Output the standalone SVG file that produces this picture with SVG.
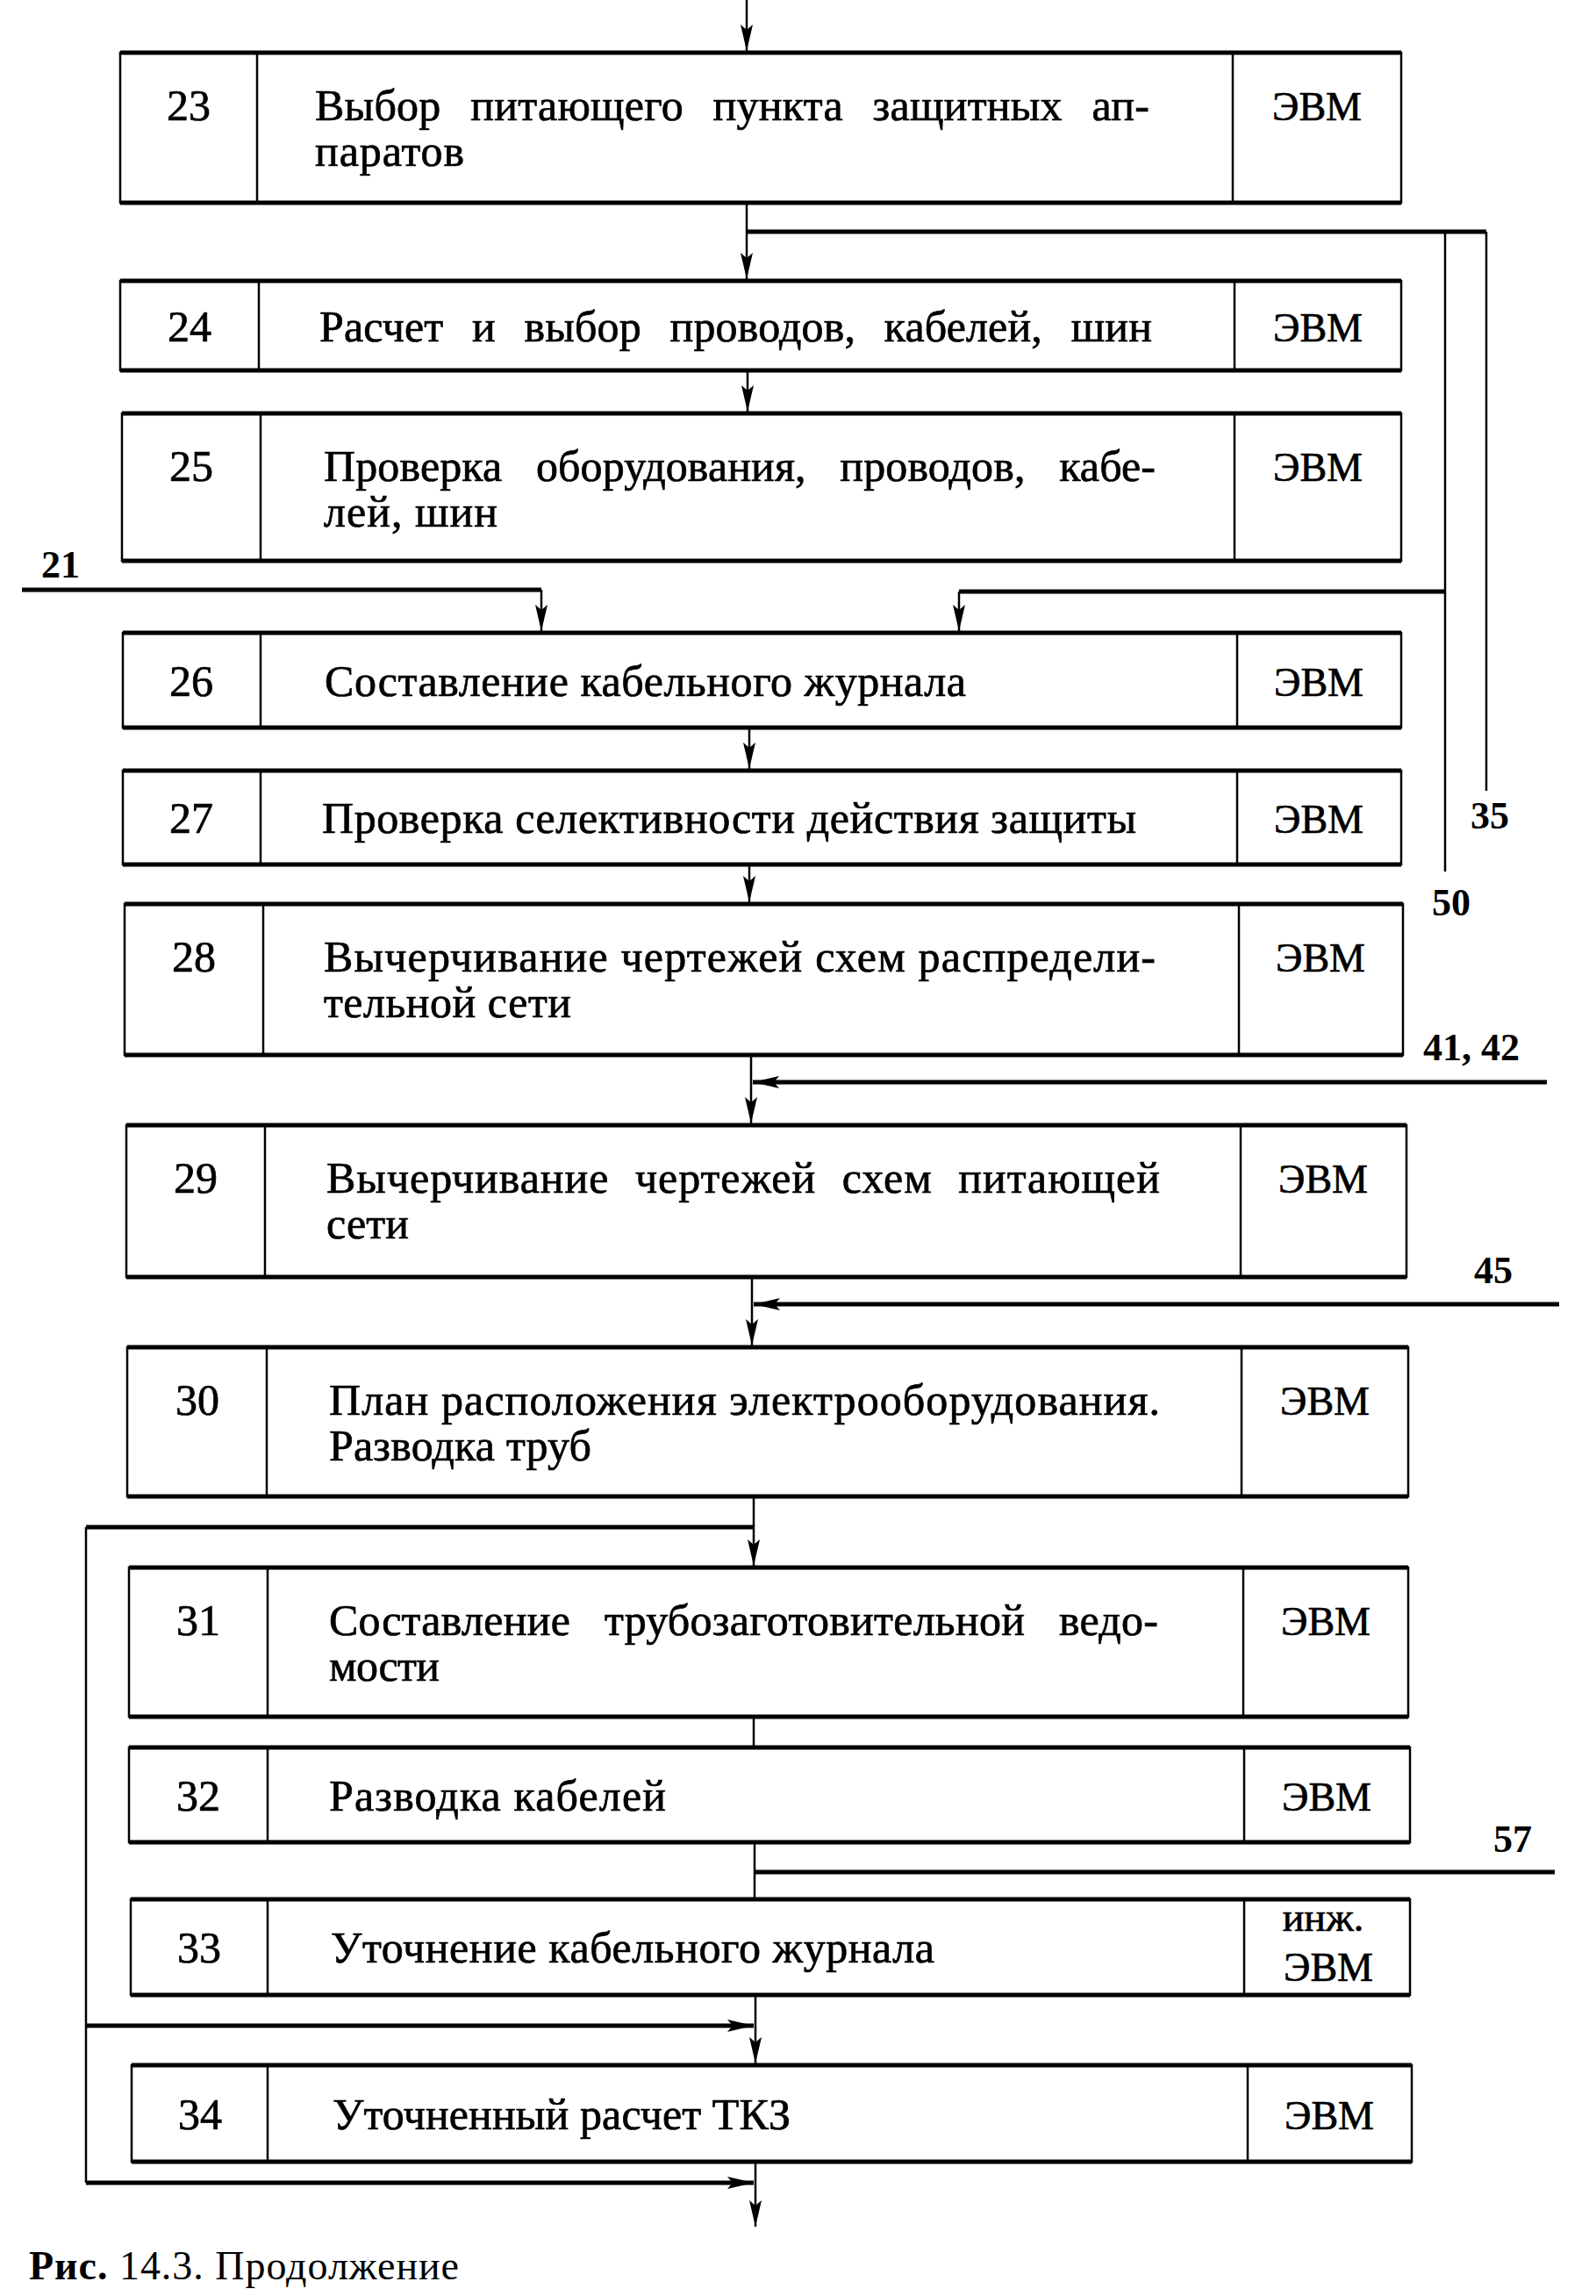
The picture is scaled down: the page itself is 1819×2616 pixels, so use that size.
<svg xmlns="http://www.w3.org/2000/svg" width="1819" height="2616" viewBox="0 0 1819 2616">
<style>
.fr{fill:none;stroke:#000;stroke-width:2.5}
.tb{stroke:#000;stroke-width:5}
.dv{stroke:#000;stroke-width:2.5}
.t{font-family:"Liberation Serif",serif;font-size:50px;fill:#000;stroke:#000;stroke-width:0.7}
.n{text-anchor:middle}
.e{font-size:46px;text-anchor:middle}
.lb{font-family:"Liberation Serif",serif;font-size:44px;font-weight:bold;fill:#000}
.cn{stroke:#000;stroke-width:2.5;fill:none}
.ck{stroke:#000;stroke-width:5;fill:none}
</style>
<defs>
<marker id="ar" markerUnits="userSpaceOnUse" markerWidth="32" markerHeight="14" refX="30" refY="7" orient="auto">
<path d="M0,0 L30,7 L0,14 L6,7 z" fill="#000"/>
</marker>
</defs>
<rect width="1819" height="2616" fill="#fff"/>

<g id="connectors">
<path class="cn" d="M851,0 V58" marker-end="url(#ar)"/>
<path class="cn" d="M851,231 V318" marker-end="url(#ar)"/>
<path class="ck" d="M851,264 H1694"/>
<path class="cn" d="M1647,264 V993"/>
<path class="cn" d="M1694,264 V901"/>
<path class="ck" d="M1647,674 H1093"/>
<path class="cn" d="M1093,674 V719" marker-end="url(#ar)"/>
<path class="ck" d="M25,672 H617"/>
<path class="cn" d="M617,672 V719" marker-end="url(#ar)"/>
<path class="cn" d="M852,422 V469" marker-end="url(#ar)"/>
<path class="cn" d="M854,829 V876" marker-end="url(#ar)"/>
<path class="cn" d="M854,985 V1028" marker-end="url(#ar)"/>
<path class="cn" d="M856,1202 V1280" marker-end="url(#ar)"/>
<path class="ck" d="M1763,1233 H858" marker-end="url(#ar)"/>
<path class="cn" d="M857,1455 V1533" marker-end="url(#ar)"/>
<path class="ck" d="M1777,1486 H859" marker-end="url(#ar)"/>
<path class="cn" d="M859,1705 V1784" marker-end="url(#ar)"/>
<path class="ck" d="M859,1740 H98"/>
<path class="cn" d="M98,1740 V2487"/>
<path class="cn" d="M859,1956 V1991"/>
<path class="cn" d="M860,2099 V2164"/>
<path class="ck" d="M860,2133 H1772"/>
<path class="cn" d="M861,2273 V2351" marker-end="url(#ar)"/>
<path class="ck" d="M98,2308 H859" marker-end="url(#ar)"/>
<path class="cn" d="M861,2463 V2537" marker-end="url(#ar)"/>
<path class="ck" d="M98,2487 H859" marker-end="url(#ar)"/>
</g>

<g id="labels">
<text class="lb" x="47" y="658">21</text>
<text class="lb" x="1676" y="944">35</text>
<text class="lb" x="1632" y="1043">50</text>
<text class="lb" x="1622" y="1208">41, 42</text>
<text class="lb" x="1680" y="1462">45</text>
<text class="lb" x="1702" y="2110">57</text>
</g>

<g id="n23">
<rect class="fr" x="137" y="60" width="1460" height="171"/>
<line class="tb" x1="137" y1="60" x2="1597" y2="60"/><line class="tb" x1="137" y1="231" x2="1597" y2="231"/>
<line class="dv" x1="293" y1="60" x2="293" y2="231"/><line class="dv" x1="1405" y1="60" x2="1405" y2="231"/>
<text class="t n" x="215" y="137">23</text>
<text class="t" x="359" y="137" word-spacing="21" textLength="951" lengthAdjust="spacing">Выбор питающего пункта защитных ап-</text>
<text class="t" x="359" y="189" textLength="170" lengthAdjust="spacing">паратов</text>
<text class="t e" x="1501" y="137">ЭВМ</text>
</g>

<g id="n24">
<rect class="fr" x="137" y="320" width="1460" height="102"/>
<line class="tb" x1="137" y1="320" x2="1597" y2="320"/><line class="tb" x1="137" y1="422" x2="1597" y2="422"/>
<line class="dv" x1="295" y1="320" x2="295" y2="422"/><line class="dv" x1="1407" y1="320" x2="1407" y2="422"/>
<text class="t n" x="216" y="389">24</text>
<text class="t" x="364" y="389" word-spacing="20" textLength="949" lengthAdjust="spacing">Расчет и выбор проводов, кабелей, шин</text>
<text class="t e" x="1502" y="389">ЭВМ</text>
</g>

<g id="n25">
<rect class="fr" x="139" y="471" width="1458" height="168"/>
<line class="tb" x1="139" y1="471" x2="1597" y2="471"/><line class="tb" x1="139" y1="639" x2="1597" y2="639"/>
<line class="dv" x1="297" y1="471" x2="297" y2="639"/><line class="dv" x1="1407" y1="471" x2="1407" y2="639"/>
<text class="t n" x="218" y="548">25</text>
<text class="t" x="369" y="548" word-spacing="26" textLength="948" lengthAdjust="spacing">Проверка оборудования, проводов, кабе-</text>
<text class="t" x="369" y="600" textLength="198" lengthAdjust="spacing">лей, шин</text>
<text class="t e" x="1502" y="548">ЭВМ</text>
</g>

<g id="n26">
<rect class="fr" x="140" y="721" width="1457" height="108"/>
<line class="tb" x1="140" y1="721" x2="1597" y2="721"/><line class="tb" x1="140" y1="829" x2="1597" y2="829"/>
<line class="dv" x1="297" y1="721" x2="297" y2="829"/><line class="dv" x1="1410" y1="721" x2="1410" y2="829"/>
<text class="t n" x="218" y="793">26</text>
<text class="t" x="370" y="793" textLength="731" lengthAdjust="spacing">Составление кабельного журнала</text>
<text class="t e" x="1503" y="793">ЭВМ</text>
</g>

<g id="n27">
<rect class="fr" x="140" y="878" width="1457" height="107"/>
<line class="tb" x1="140" y1="878" x2="1597" y2="878"/><line class="tb" x1="140" y1="985" x2="1597" y2="985"/>
<line class="dv" x1="297" y1="878" x2="297" y2="985"/><line class="dv" x1="1410" y1="878" x2="1410" y2="985"/>
<text class="t n" x="218" y="949">27</text>
<text class="t" x="367" y="949" textLength="928" lengthAdjust="spacing">Проверка селективности действия защиты</text>
<text class="t e" x="1503" y="949">ЭВМ</text>
</g>

<g id="n28">
<rect class="fr" x="142" y="1030" width="1457" height="172"/>
<line class="tb" x1="142" y1="1030" x2="1599" y2="1030"/><line class="tb" x1="142" y1="1202" x2="1599" y2="1202"/>
<line class="dv" x1="300" y1="1030" x2="300" y2="1202"/><line class="dv" x1="1412" y1="1030" x2="1412" y2="1202"/>
<text class="t n" x="221" y="1107">28</text>
<text class="t" x="369" y="1107" textLength="948" lengthAdjust="spacing">Вычерчивание чертежей схем распредели-</text>
<text class="t" x="369" y="1159" textLength="282" lengthAdjust="spacing">тельной сети</text>
<text class="t e" x="1505" y="1107">ЭВМ</text>
</g>

<g id="n29">
<rect class="fr" x="144" y="1282" width="1459" height="173"/>
<line class="tb" x1="144" y1="1282" x2="1603" y2="1282"/><line class="tb" x1="144" y1="1455" x2="1603" y2="1455"/>
<line class="dv" x1="302" y1="1282" x2="302" y2="1455"/><line class="dv" x1="1414" y1="1282" x2="1414" y2="1455"/>
<text class="t n" x="223" y="1359">29</text>
<text class="t" x="372" y="1359" word-spacing="16" textLength="950" lengthAdjust="spacing">Вычерчивание чертежей схем питающей</text>
<text class="t" x="372" y="1411" textLength="94" lengthAdjust="spacing">сети</text>
<text class="t e" x="1508" y="1359">ЭВМ</text>
</g>

<g id="n30">
<rect class="fr" x="145" y="1535" width="1460" height="170"/>
<line class="tb" x1="145" y1="1535" x2="1605" y2="1535"/><line class="tb" x1="145" y1="1705" x2="1605" y2="1705"/>
<line class="dv" x1="304" y1="1535" x2="304" y2="1705"/><line class="dv" x1="1415" y1="1535" x2="1415" y2="1705"/>
<text class="t n" x="225" y="1612">30</text>
<text class="t" x="375" y="1612" textLength="947" lengthAdjust="spacing">План расположения электрооборудования.</text>
<text class="t" x="375" y="1664" textLength="299" lengthAdjust="spacing">Разводка труб</text>
<text class="t e" x="1510" y="1612">ЭВМ</text>
</g>

<g id="n31">
<rect class="fr" x="147" y="1786" width="1458" height="170"/>
<line class="tb" x1="147" y1="1786" x2="1605" y2="1786"/><line class="tb" x1="147" y1="1956" x2="1605" y2="1956"/>
<line class="dv" x1="305" y1="1786" x2="305" y2="1956"/><line class="dv" x1="1417" y1="1786" x2="1417" y2="1956"/>
<text class="t n" x="226" y="1863">31</text>
<text class="t" x="375" y="1863" word-spacing="26" textLength="945" lengthAdjust="spacing">Составление трубозаготовительной ведо-</text>
<text class="t" x="375" y="1915" textLength="126" lengthAdjust="spacing">мости</text>
<text class="t e" x="1511" y="1863">ЭВМ</text>
</g>

<g id="n32">
<rect class="fr" x="147" y="1991" width="1460" height="108"/>
<line class="tb" x1="147" y1="1991" x2="1607" y2="1991"/><line class="tb" x1="147" y1="2099" x2="1607" y2="2099"/>
<line class="dv" x1="305" y1="1991" x2="305" y2="2099"/><line class="dv" x1="1418" y1="1991" x2="1418" y2="2099"/>
<text class="t n" x="226" y="2063">32</text>
<text class="t" x="375" y="2063" textLength="384" lengthAdjust="spacing">Разводка кабелей</text>
<text class="t e" x="1512" y="2063">ЭВМ</text>
</g>

<g id="n33">
<rect class="fr" x="149" y="2164" width="1458" height="109"/>
<line class="tb" x1="149" y1="2164" x2="1607" y2="2164"/><line class="tb" x1="149" y1="2273" x2="1607" y2="2273"/>
<line class="dv" x1="305" y1="2164" x2="305" y2="2273"/><line class="dv" x1="1418" y1="2164" x2="1418" y2="2273"/>
<text class="t n" x="227" y="2236">33</text>
<text class="t" x="377" y="2236" textLength="688" lengthAdjust="spacing">Уточнение кабельного журнала</text>
<text class="t e" x="1508" y="2200">инж.</text>
<text class="t e" x="1514" y="2257">ЭВМ</text>
</g>

<g id="n34">
<rect class="fr" x="150" y="2353" width="1459" height="110"/>
<line class="tb" x1="150" y1="2353" x2="1609" y2="2353"/><line class="tb" x1="150" y1="2463" x2="1609" y2="2463"/>
<line class="dv" x1="305" y1="2353" x2="305" y2="2463"/><line class="dv" x1="1422" y1="2353" x2="1422" y2="2463"/>
<text class="t n" x="228" y="2426">34</text>
<text class="t" x="379" y="2426" textLength="522" lengthAdjust="spacing">Уточненный расчет ТКЗ</text>
<text class="t e" x="1515" y="2426">ЭВМ</text>
</g>

<text id="caption" x="33" y="2597" font-family="Liberation Serif, serif" font-size="46" fill="#000" textLength="490" lengthAdjust="spacing"><tspan font-weight="bold">Рис.</tspan> 14.3. Продолжение</text>
</svg>
